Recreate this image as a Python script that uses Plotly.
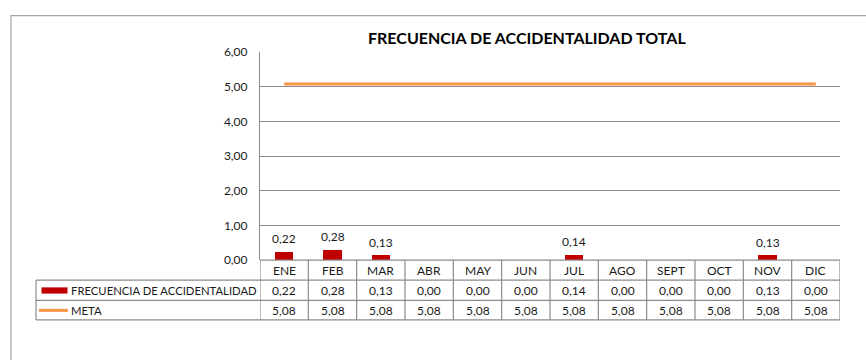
import plotly.graph_objects as go

# ---- data ----
months = ["ENE", "FEB", "MAR", "ABR", "MAY", "JUN", "JUL", "AGO", "SEPT", "OCT", "NOV", "DIC"]
frecuencia = [0.22, 0.28, 0.13, 0.00, 0.00, 0.00, 0.14, 0.00, 0.00, 0.00, 0.13, 0.00]
meta = [5.08, 5.08, 5.08, 5.08, 5.08, 5.08, 5.08, 5.08, 5.08, 5.08, 5.08, 5.08]
y_ticks = [0, 1, 2, 3, 4, 5, 6]
series_names = ["FRECUENCIA DE ACCIDENTALIDAD", "META"]
title_text = "FRECUENCIA DE ACCIDENTALIDAD TOTAL"

# ---- styling / geometry (pixels) ----
W, H = 866, 360
PLOT_L, PLOT_R, PLOT_T, PLOT_B = 260, 840, 46, 263
ROWS = [263, 284, 305, 325.5]        # table row boundaries
TABLE_L = 36
RED = "#C00000"
ORANGE = "#F79646"
GRID = "#8C8C8C"
TXT = "#1a1a1a"
FONT = "Lato"


def px(x):
    return x / W


def py(y):
    return 1 - y / H


def fmt(v):
    return f"{v:.2f}".replace(".", ",")


fig = go.Figure()

fig.add_trace(go.Bar(
    x=months, y=frecuencia, name=series_names[0],
    marker=dict(color=RED, line=dict(width=0)), width=0.38,
))
fig.add_trace(go.Scatter(
    x=months, y=meta, name=series_names[1], mode="lines",
    line=dict(color=ORANGE, width=3),
))

shapes = []
annotations = []

# outer chart frame
shapes.append(dict(type="rect", xref="paper", yref="paper",
                   x0=px(11), x1=px(W + 20), y0=py(8), y1=py(H + 20),
                   line=dict(color="#A6A6A6", width=1.2), layer="below"))

# data labels above non-zero bars
for m, v in zip(months, frecuencia):
    if v > 0:
        annotations.append(dict(x=m, y=v, xref="x", yref="y", text=fmt(v),
                                showarrow=False, yanchor="bottom", yshift=4,
                                font=dict(size=12, color=TXT, family=FONT)))

# data table: horizontal rules
for i, yb in enumerate(ROWS):
    x_start = PLOT_L if i == 0 else TABLE_L
    shapes.append(dict(type="line", xref="paper", yref="paper",
                       x0=px(x_start), x1=px(PLOT_R), y0=py(yb), y1=py(yb),
                       line=dict(color=GRID, width=1.2)))
# vertical rules between month columns
for k in range(len(months) + 1):
    shapes.append(dict(type="line", xref="x", yref="paper",
                       x0=k - 0.5, x1=k - 0.5, y0=py(ROWS[0]), y1=py(ROWS[-1]),
                       line=dict(color=GRID, width=1.2)))
# left edge of the legend column
shapes.append(dict(type="line", xref="paper", yref="paper",
                   x0=px(TABLE_L), x1=px(TABLE_L), y0=py(ROWS[1]), y1=py(ROWS[-1]),
                   line=dict(color=GRID, width=1.2)))

# header row and value rows
row_mid = [(ROWS[i] + ROWS[i + 1]) / 2 for i in range(3)]
cell_font = dict(size=12, color=TXT, family=FONT)
for i, m in enumerate(months):
    for text, ym in ((m, row_mid[0]), (fmt(frecuencia[i]), row_mid[1]), (fmt(meta[i]), row_mid[2])):
        annotations.append(dict(x=m, xref="x", y=py(ym), yref="paper", text=text,
                                xanchor="center", yanchor="middle",
                                showarrow=False, font=cell_font))

# legend keys inside the table
shapes.append(dict(type="rect", xref="paper", yref="paper",
                   x0=px(41.5), x1=px(67.5), y0=py(291.5), y1=py(298),
                   fillcolor=RED, line=dict(width=0)))
shapes.append(dict(type="line", xref="paper", yref="paper",
                   x0=px(39), x1=px(68), y0=py(315.5), y1=py(315.5),
                   line=dict(color=ORANGE, width=3)))
for name, ym in zip(series_names, row_mid[1:]):
    annotations.append(dict(x=px(68.5), xref="paper", y=py(ym), yref="paper", text=name,
                            xanchor="left", yanchor="middle", showarrow=False,
                            font=dict(size=11.3, color=TXT, family=FONT)))

# chart title
annotations.append(dict(x=px(527), y=py(31), xref="paper", yref="paper", text=f"<b>{title_text}</b>",
                        xanchor="center", yanchor="middle", showarrow=False,
                        font=dict(size=16, color="#000000", family=FONT)))

fig.update_layout(
    width=W, height=H,
    margin=dict(l=0, r=0, t=0, b=0),
    paper_bgcolor="white", plot_bgcolor="white",
    separators=",.",
    showlegend=False,
    font=dict(family=FONT, size=12, color=TXT),
    shapes=shapes, annotations=annotations,
    xaxis=dict(domain=[px(PLOT_L), px(PLOT_R)], range=[-0.5, 11.5], type="category",
               showticklabels=False, showgrid=False, zeroline=False, showline=False, fixedrange=True),
    yaxis=dict(domain=[py(PLOT_B), py(PLOT_T)], range=[0, 6], tickvals=y_ticks, tickformat=".2f",
               showgrid=True, gridcolor=GRID, gridwidth=1.2, zeroline=False,
               showline=True, linecolor=GRID, linewidth=1.2, ticks="",
               ticklabelstandoff=9, tickfont=dict(size=12, color=TXT, family=FONT)),
    bargap=0,
)

fig.write_html("out.html")
